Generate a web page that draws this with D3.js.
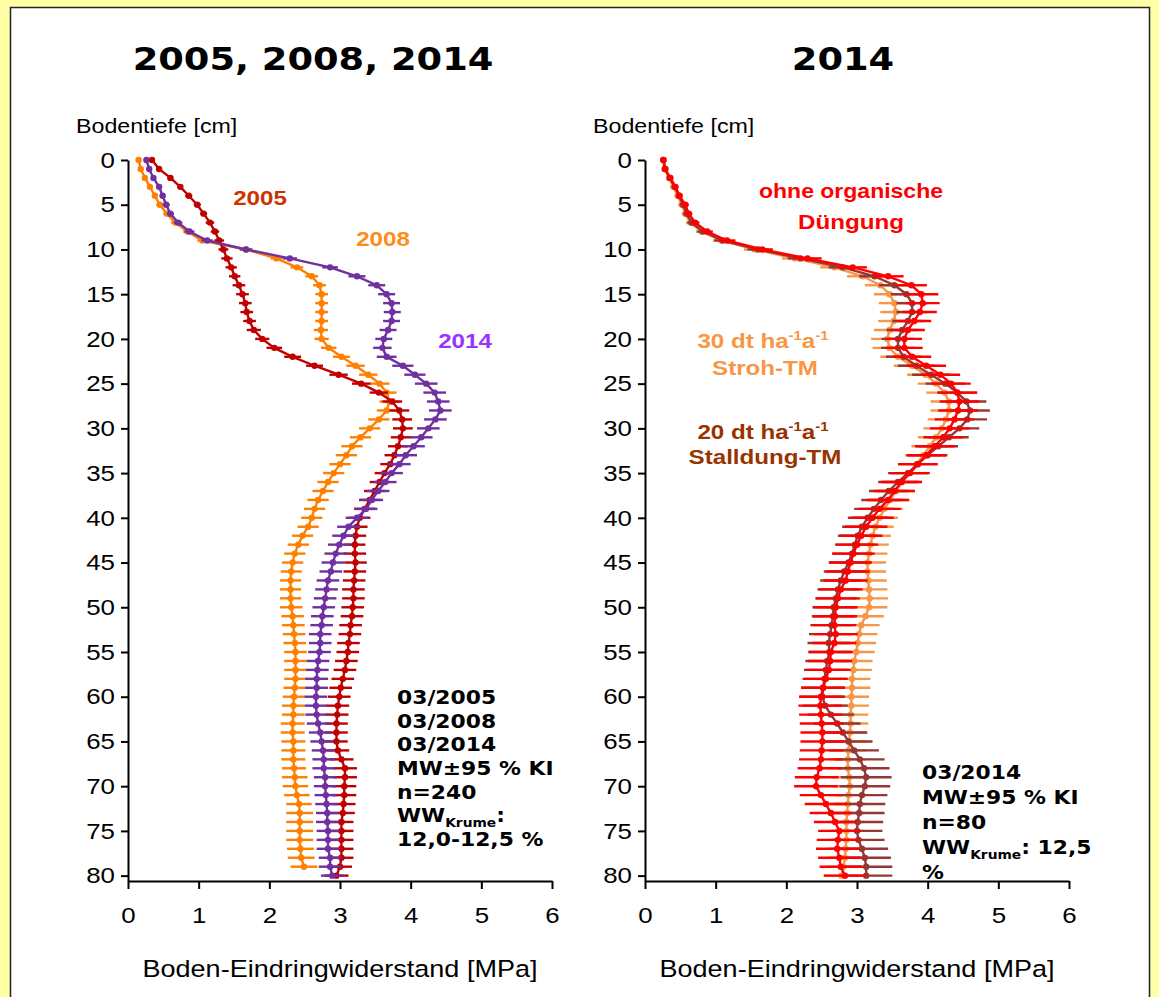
<!DOCTYPE html>
<html>
<head>
<meta charset="utf-8">
<script src="https://cdn.jsdelivr.net/npm/d3@7"></script>
<style>
  html, body { margin: 0; padding: 0; background: #ffffa6; }
  svg { display: block; }
</style>
</head>
<body>
<svg id="chart" width="1159" height="997"></svg>
<script>
// Penetration resistance profiles, mean ± 95 % confidence interval, one value per cm of depth.
const depthCm = d3.range(0, 81);
const depthTicks = [0, 5, 10, 15, 20, 25, 30, 35, 40, 45, 50, 55, 60, 65, 70, 75, 80];
const mpaTicks = [0, 1, 2, 3, 4, 5, 6];

// Left panel: survey years
const mean2005 = [0.34,0.44,0.60,0.74,0.86,0.98,1.07,1.16,1.23,1.29,
  1.35,1.40,1.46,1.51,1.57,1.62,1.66,1.68,1.72,1.78,
  1.90,2.07,2.33,2.64,2.98,3.30,3.55,3.74,3.84,3.88,
  3.89,3.86,3.82,3.77,3.71,3.63,3.56,3.49,3.42,3.35,
  3.28,3.24,3.22,3.21,3.21,3.22,3.21,3.20,3.19,3.19,
  3.18,3.17,3.15,3.14,3.12,3.11,3.09,3.07,3.04,3.01,
  2.99,2.97,2.96,2.95,2.95,2.95,2.97,3.02,3.07,3.07,
  3.06,3.06,3.05,3.04,3.02,3.02,3.02,3.02,3.02,3.00,2.95];
const ci2005 = [0.02,0.03,0.04,0.04,0.05,0.05,0.05,0.06,0.06,0.07,
  0.07,0.08,0.08,0.08,0.09,0.09,0.09,0.09,0.09,0.10,
  0.10,0.11,0.12,0.12,0.13,0.13,0.13,0.14,0.14,0.14,
  0.14,0.14,0.14,0.14,0.14,0.14,0.14,0.15,0.15,0.15,
  0.15,0.15,0.15,0.15,0.16,0.16,0.16,0.16,0.16,0.16,
  0.16,0.16,0.16,0.16,0.16,0.16,0.16,0.16,0.16,0.16,
  0.16,0.16,0.16,0.16,0.16,0.16,0.16,0.17,0.17,0.17,
  0.17,0.17,0.17,0.17,0.17,0.17,0.17,0.17,0.17,0.17,0.17];

const mean2008 = [0.15,0.18,0.24,0.31,0.38,0.45,0.55,0.67,0.84,1.05,
  1.67,2.10,2.39,2.60,2.71,2.74,2.74,2.74,2.74,2.73,
  2.74,2.84,3.02,3.22,3.40,3.56,3.66,3.70,3.66,3.55,
  3.42,3.29,3.17,3.09,3.00,2.91,2.83,2.76,2.69,2.64,
  2.60,2.55,2.47,2.41,2.36,2.33,2.31,2.30,2.30,2.30,
  2.31,2.33,2.34,2.35,2.36,2.37,2.37,2.37,2.37,2.36,
  2.35,2.34,2.34,2.33,2.33,2.34,2.34,2.34,2.35,2.36,
  2.37,2.39,2.42,2.43,2.43,2.43,2.43,2.44,2.45,2.49];
const ci2008 = [0.02,0.03,0.03,0.04,0.04,0.05,0.05,0.06,0.06,0.07,
  0.08,0.08,0.09,0.09,0.09,0.09,0.09,0.09,0.09,0.10,
  0.10,0.11,0.12,0.13,0.13,0.14,0.14,0.14,0.14,0.15,
  0.15,0.15,0.15,0.15,0.15,0.15,0.15,0.15,0.15,0.15,
  0.15,0.15,0.15,0.15,0.15,0.15,0.15,0.15,0.15,0.15,
  0.16,0.16,0.16,0.16,0.16,0.16,0.16,0.16,0.16,0.16,
  0.16,0.16,0.16,0.17,0.17,0.17,0.17,0.17,0.17,0.18,
  0.18,0.18,0.18,0.19,0.19,0.19,0.19,0.19,0.19,0.19];

const mean2014 = [0.26,0.30,0.36,0.44,0.49,0.54,0.60,0.71,0.87,1.12,
  1.67,2.29,2.86,3.24,3.52,3.66,3.73,3.74,3.73,3.68,
  3.62,3.60,3.66,3.89,4.06,4.22,4.34,4.39,4.42,4.35,
  4.25,4.15,4.04,3.93,3.84,3.73,3.64,3.54,3.45,3.37,
  3.24,3.12,3.05,2.99,2.94,2.90,2.87,2.83,2.81,2.79,
  2.77,2.75,2.74,2.72,2.72,2.71,2.69,2.68,2.67,2.67,
  2.66,2.66,2.67,2.69,2.72,2.74,2.76,2.77,2.77,2.79,
  2.79,2.80,2.81,2.82,2.82,2.83,2.83,2.83,2.86,2.86,2.89];
const ci2014 = [0.02,0.03,0.03,0.04,0.04,0.05,0.05,0.06,0.07,0.08,
  0.09,0.10,0.11,0.12,0.12,0.12,0.12,0.12,0.12,0.12,
  0.12,0.13,0.14,0.15,0.15,0.16,0.16,0.16,0.16,0.16,
  0.16,0.16,0.16,0.16,0.16,0.16,0.16,0.16,0.16,0.16,
  0.16,0.16,0.16,0.16,0.16,0.16,0.16,0.16,0.16,0.16,
  0.16,0.16,0.16,0.16,0.16,0.16,0.16,0.16,0.16,0.16,
  0.16,0.16,0.16,0.16,0.16,0.16,0.16,0.16,0.16,0.16,
  0.16,0.16,0.16,0.16,0.16,0.16,0.16,0.16,0.16,0.16,0.16];

// Right panel: 2014 by organic fertilisation
const meanOhne = [0.26,0.28,0.36,0.43,0.49,0.57,0.62,0.71,0.88,1.16,
  1.66,2.30,2.94,3.44,3.77,3.91,3.93,3.89,3.81,3.72,
  3.67,3.67,3.78,3.98,4.18,4.33,4.42,4.45,4.43,4.38,
  4.31,4.22,4.10,3.98,3.86,3.75,3.63,3.53,3.44,3.32,
  3.22,3.13,3.06,3.00,2.95,2.91,2.87,2.84,2.77,2.73,
  2.70,2.69,2.68,2.70,2.68,2.63,2.62,2.60,2.56,2.52,
  2.49,2.48,2.49,2.50,2.51,2.51,2.50,2.49,2.47,2.43,
  2.42,2.49,2.56,2.63,2.69,2.75,2.73,2.72,2.75,2.77,2.83];
const ciOhne = [0.02,0.03,0.03,0.04,0.04,0.05,0.05,0.06,0.08,0.12,
  0.15,0.20,0.20,0.22,0.22,0.24,0.24,0.24,0.24,0.24,
  0.25,0.26,0.27,0.28,0.28,0.28,0.28,0.28,0.28,0.28,
  0.28,0.28,0.28,0.28,0.28,0.28,0.29,0.29,0.30,0.30,
  0.30,0.30,0.30,0.30,0.30,0.30,0.31,0.31,0.31,0.31,
  0.31,0.31,0.31,0.31,0.31,0.31,0.31,0.31,0.31,0.31,
  0.31,0.31,0.31,0.31,0.31,0.31,0.31,0.31,0.31,0.31,
  0.31,0.30,0.30,0.30,0.30,0.30,0.30,0.30,0.30,0.30,0.30];

const meanStroh = [0.26,0.28,0.34,0.40,0.46,0.52,0.57,0.64,0.80,1.08,
  1.55,2.12,2.68,3.08,3.33,3.46,3.53,3.55,3.52,3.46,
  3.43,3.46,3.58,3.78,3.97,4.12,4.24,4.30,4.30,4.26,
  4.20,4.12,4.03,3.94,3.84,3.74,3.64,3.55,3.47,3.39,
  3.32,3.26,3.22,3.19,3.17,3.15,3.15,3.16,3.17,3.18,
  3.17,3.12,3.06,3.03,3.01,2.99,2.96,2.95,2.93,2.93,
  2.92,2.92,2.91,2.91,2.90,2.89,2.88,2.87,2.87,2.89,
  2.90,2.88,2.87,2.86,2.85,2.85,2.85,2.84,2.83,2.81,2.78];
const ciStroh = [0.02,0.03,0.03,0.04,0.04,0.05,0.05,0.06,0.08,0.12,
  0.15,0.18,0.20,0.22,0.22,0.22,0.22,0.22,0.22,0.22,
  0.23,0.24,0.25,0.26,0.26,0.26,0.26,0.26,0.26,0.26,
  0.26,0.26,0.26,0.26,0.26,0.26,0.26,0.26,0.26,0.26,
  0.26,0.26,0.26,0.26,0.26,0.26,0.26,0.26,0.26,0.26,
  0.26,0.26,0.26,0.26,0.26,0.26,0.26,0.26,0.26,0.26,
  0.25,0.25,0.25,0.25,0.25,0.25,0.25,0.25,0.25,0.25,
  0.25,0.25,0.25,0.25,0.25,0.25,0.25,0.25,0.25,0.25,0.25];

const meanStall = [0.26,0.29,0.35,0.42,0.48,0.54,0.59,0.66,0.82,1.10,
  1.60,2.20,2.80,3.25,3.53,3.70,3.78,3.78,3.72,3.64,
  3.58,3.58,3.66,3.84,4.05,4.25,4.42,4.55,4.60,4.56,
  4.45,4.30,4.15,4.00,3.86,3.72,3.58,3.45,3.34,3.24,
  3.15,3.07,3.01,2.97,2.93,2.88,2.82,2.77,2.73,2.70,
  2.67,2.66,2.64,2.62,2.60,2.61,2.58,2.56,2.54,2.52,
  2.51,2.55,2.63,2.72,2.80,2.88,2.96,3.04,3.10,3.13,
  3.11,3.07,3.04,3.03,3.01,3.00,3.02,3.07,3.11,3.13,3.13];
const ciStall = [0.02,0.03,0.03,0.04,0.04,0.05,0.05,0.06,0.08,0.12,
  0.15,0.18,0.20,0.22,0.22,0.22,0.22,0.22,0.22,0.22,
  0.23,0.24,0.25,0.26,0.27,0.28,0.28,0.28,0.28,0.28,
  0.28,0.28,0.28,0.28,0.28,0.28,0.28,0.28,0.28,0.28,
  0.28,0.28,0.28,0.28,0.28,0.28,0.29,0.29,0.29,0.29,
  0.30,0.30,0.30,0.30,0.30,0.30,0.31,0.31,0.31,0.31,
  0.32,0.32,0.33,0.33,0.34,0.34,0.35,0.35,0.36,0.36,
  0.36,0.36,0.36,0.36,0.36,0.36,0.37,0.37,0.37,0.37,0.37];

const ARIAL = "'Liberation Sans', Arial, sans-serif";
const VERDANA = "'DejaVu Sans', Verdana, sans-serif";
const SX = 1.15; // horizontal text stretch of the figure

const svg = d3.select("#chart");

// stretch a text horizontally around its own anchor point
function stretch(sel) {
  sel.each(function () {
    const t = d3.select(this);
    const x = +t.attr("x") || 0;
    t.attr("transform", `translate(${x},0) scale(${SX},1) translate(${-x},0)`);
  });
  return sel;
}

// page background and white frame
svg.append("rect").attr("width", 1159).attr("height", 997).attr("fill", "#ffffa6");
svg.append("rect").attr("x", 10.5).attr("y", 7.5).attr("width", 1139).attr("height", 1000)
  .attr("fill", "#ffffff").attr("stroke", "#222").attr("stroke-width", 1.5);

const yTop = 160, yBottom = 881;

function drawPanel(cfg) {
  const x = d3.scaleLinear().domain([0, 6]).range([cfg.x0, cfg.x0 + 424]);
  const y = d3.scaleLinear().domain([0, 80.6]).range([yTop, yBottom]);
  const g = svg.append("g");

  // title
  stretch(g.append("text").attr("x", cfg.titleX).attr("y", 70).attr("text-anchor", "middle")
    .attr("font-family", VERDANA).attr("font-weight", "bold").attr("font-size", 32)
    .text(cfg.title));

  stretch(g.append("text").attr("x", cfg.x0 - 52).attr("y", 133)
    .attr("font-family", ARIAL).attr("font-size", 20.2).text("Bodentiefe [cm]"));

  // series: error bars, line, markers
  cfg.series.forEach(s => {
    const pts = s.mean.map((v, i) => ({ d: depthCm[i], v, ci: s.ci[i] }));
    const sg = g.append("g");
    sg.selectAll("line.err").data(pts).join("line").attr("class", "err")
      .attr("x1", p => x(p.v - p.ci)).attr("x2", p => x(p.v + p.ci))
      .attr("y1", p => y(p.d)).attr("y2", p => y(p.d))
      .attr("stroke", s.color).attr("stroke-width", 2.4);
    sg.append("path").datum(pts)
      .attr("d", d3.line().x(p => x(p.v)).y(p => y(p.d)))
      .attr("fill", "none").attr("stroke", s.color).attr("stroke-width", 2.4);
    sg.selectAll("circle").data(pts).join("circle")
      .attr("cx", p => x(p.v)).attr("cy", p => y(p.d)).attr("r", 3.2)
      .attr("fill", s.color);
  });

  // axes
  const yAxis = g.append("g").attr("transform", `translate(${cfg.x0},0)`)
    .call(d3.axisLeft(y).tickValues(depthTicks).tickSize(7).tickSizeOuter(0).tickPadding(6));
  const xAxis = g.append("g").attr("transform", `translate(0,${yBottom})`)
    .call(d3.axisBottom(x).tickValues(mpaTicks).tickFormat(d3.format("d"))
      .tickSize(8).tickSizeOuter(0).tickPadding(18));
  [yAxis, xAxis].forEach(a => {
    a.selectAll("path, line").attr("stroke", "#000").attr("stroke-width", 2);
    stretch(a.selectAll("text").attr("font-family", ARIAL).attr("font-size", 22.5).attr("fill", "#000"));
  });

  stretch(g.append("text").attr("x", cfg.x0 + 212).attr("y", 977).attr("text-anchor", "middle")
    .attr("font-family", ARIAL).attr("font-size", 23.5).text("Boden-Eindringwiderstand [MPa]"));

  // notes block
  const note = g.append("text").attr("x", cfg.noteX).attr("font-family", VERDANA)
    .attr("font-weight", "bold").attr("font-size", 19).attr("fill", "#000");
  cfg.notes.forEach((line, i) => {
    const t = note.append("tspan").attr("x", cfg.noteX).attr("y", cfg.noteY + i * cfg.noteStep);
    if (typeof line === "object") {
      t.text(line.pre);
      t.append("tspan").attr("font-size", 12).attr("dy", 5).text(line.lower);
      t.append("tspan").attr("dy", -5).text(line.post);
    } else {
      t.text(line);
    }
  });
  stretch(note);

  // series labels
  cfg.labels.forEach(l => {
    const t = g.append("text").attr("x", l.x).attr("y", l.y).attr("text-anchor", "middle")
      .attr("font-family", ARIAL).attr("font-weight", "bold").attr("font-size", l.size)
      .attr("fill", l.color);
    if (l.parts) {
      t.append("tspan").text(l.parts[0]);
      t.append("tspan").attr("font-size", 13).attr("dy", -8).text("-1");
      t.append("tspan").attr("dy", 8).text(l.parts[1]);
      t.append("tspan").attr("font-size", 13).attr("dy", -8).text("-1");
    } else {
      t.text(l.text);
    }
    stretch(t);
  });
}

drawPanel({
  x0: 128, title: "2005, 2008, 2014", titleX: 313,
  series: [
    { mean: mean2008, ci: ci2008, color: "#ff8000" },
    { mean: mean2005, ci: ci2005, color: "#c00000" },
    { mean: mean2014, ci: ci2014, color: "#7030a0" }
  ],
  notes: ["03/2005", "03/2008", "03/2014", "MW±95 % KI", "n=240",
          { pre: "WW", lower: "Krume", post: ":" }, "12,0-12,5 %"],
  noteX: 397, noteY: 704, noteStep: 23.7,
  labels: [
    { text: "2005", x: 260, y: 205, color: "#cc3300", size: 21 },
    { text: "2008", x: 383, y: 246, color: "#ff8c1a", size: 21 },
    { text: "2014", x: 465, y: 348, color: "#9933ff", size: 21 }
  ]
});

drawPanel({
  x0: 645, title: "2014", titleX: 843,
  series: [
    { mean: meanStroh, ci: ciStroh, color: "#f79646" },
    { mean: meanStall, ci: ciStall, color: "#953735" },
    { mean: meanOhne, ci: ciOhne, color: "#ff0000" }
  ],
  notes: ["03/2014", "MW±95 % KI", "n=80",
          { pre: "WW", lower: "Krume", post: ": 12,5" }, "%"],
  noteX: 922, noteY: 779, noteStep: 25,
  labels: [
    { text: "ohne organische", x: 851, y: 198, color: "#ff0000", size: 20 },
    { text: "Düngung", x: 851, y: 229, color: "#ff0000", size: 21 },
    { parts: ["30 dt ha", "a"], x: 763, y: 348, color: "#f79646", size: 21 },
    { text: "Stroh-TM", x: 765, y: 375, color: "#f79646", size: 21 },
    { parts: ["20 dt ha", "a"], x: 763, y: 439, color: "#993300", size: 21 },
    { text: "Stalldung-TM", x: 765, y: 464, color: "#993300", size: 21 }
  ]
});
</script>
</body>
</html>
